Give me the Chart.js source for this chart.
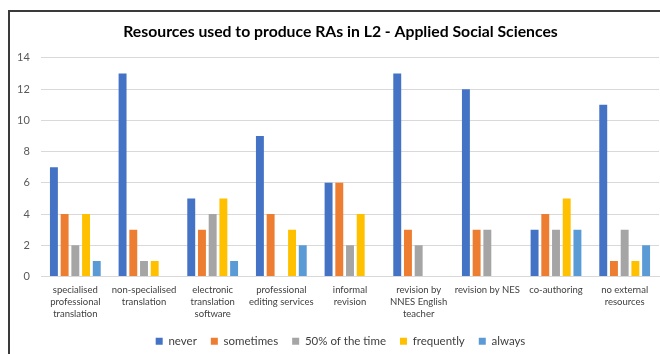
<!DOCTYPE html>
<html>
<head>
<meta charset="utf-8">
<script src="https://cdn.jsdelivr.net/npm/chart.js@4.4.1/dist/chart.umd.min.js"></script>
<style>
  html, body { margin: 0; padding: 0; background: #fff; overflow: hidden; }
  #wrap { position: relative; width: 660px; height: 354px; }
  #frame { position: absolute; left: 8px; top: 10px; width: 700px; height: 400px;
           border-left: 2px solid #3a3a3a; border-top: 2px solid #3a3a3a; box-sizing: border-box; }
  canvas { position: absolute; left: 0; top: 0; }
</style>
</head>
<body>
<div id="wrap">
  <div id="frame"></div>
  <canvas id="c" width="660" height="354"></canvas>
</div>
<script>
// Resources used, grouped by resource type
const categories = [
  ["specialised", "professional", "translation"],
  ["non-specialised", "translation"],
  ["electronic", "translation", "software"],
  ["professional", "editing services"],
  ["informal", "revision"],
  ["revision by", "NNES English", "teacher"],
  ["revision by NES"],
  ["co-authoring"],
  ["no external", "resources"]
];
const seriesNames = ["never", "sometimes", "50% of the time", "frequently", "always"];
const never      = [7, 13, 5, 9, 6, 13, 12, 3, 11];
const sometimes  = [4, 3, 3, 4, 6, 3, 3, 4, 1];
const halfTime   = [2, 1, 4, 0, 2, 2, 3, 3, 3];
const frequently = [4, 1, 5, 3, 4, 0, 0, 5, 1];
const always     = [1, 0, 1, 2, 0, 0, 0, 3, 2];
const yTicks = [0, 2, 4, 6, 8, 10, 12, 14];

const colors = ["#4472C4", "#ED7D31", "#A5A5A5", "#FFC000", "#5B9BD5"];
const values = [never, sometimes, halfTime, frequently, always];

const FONT = "Lato, 'Open Sans', sans-serif";

new Chart(document.getElementById("c"), {
  type: "bar",
  data: {
    labels: categories,
    datasets: seriesNames.map((name, i) => ({
      label: name,
      data: values[i],
      backgroundColor: colors[i],
      borderWidth: 0,
      categoryPercentage: 0.78,
      barPercentage: 0.74
    }))
  },
  options: {
    responsive: false,
    animation: false,
    devicePixelRatio: 1,
    layout: { padding: { left: 22, right: 1, top: 18, bottom: -3 } },
    plugins: {
      title: {
        display: true,
        text: "Resources used to produce RAs in L2 - Applied Social Sciences",
        color: "#000",
        font: { family: FONT, size: 15.75, weight: "bold" },
        padding: { top: 4, bottom: 17 }
      },
      legend: {
        position: "bottom",
        labels: {
          boxWidth: 7, boxHeight: 7, padding: 14,
          color: "#404040",
          font: { family: FONT, size: 11.5 }
        }
      },
      tooltip: { enabled: false }
    },
    scales: {
      x: {
        grid: { display: false },
        border: { display: true, color: "#d9d9d9" },
        ticks: {
          color: "#404040",
          font: { family: FONT, size: 9.5, lineHeight: 1.3 },
          maxRotation: 0, autoSkip: false, padding: -1
        },
        afterFit: s => { s.height = 45; }
      },
      y: {
        min: 0, max: 14,
        afterBuildTicks: s => { s.ticks = yTicks.map(v => ({ value: v })); },
        grid: { color: "#d9d9d9", drawTicks: false },
        border: { display: false },
        ticks: {
          color: "#595959",
          font: { family: FONT, size: 11 },
          mirror: true,
          crossAlign: "far",
          padding: -24
        },
        afterFit: s => { s.width = 19; }
      }
    }
  }
});
</script>
</body>
</html>
